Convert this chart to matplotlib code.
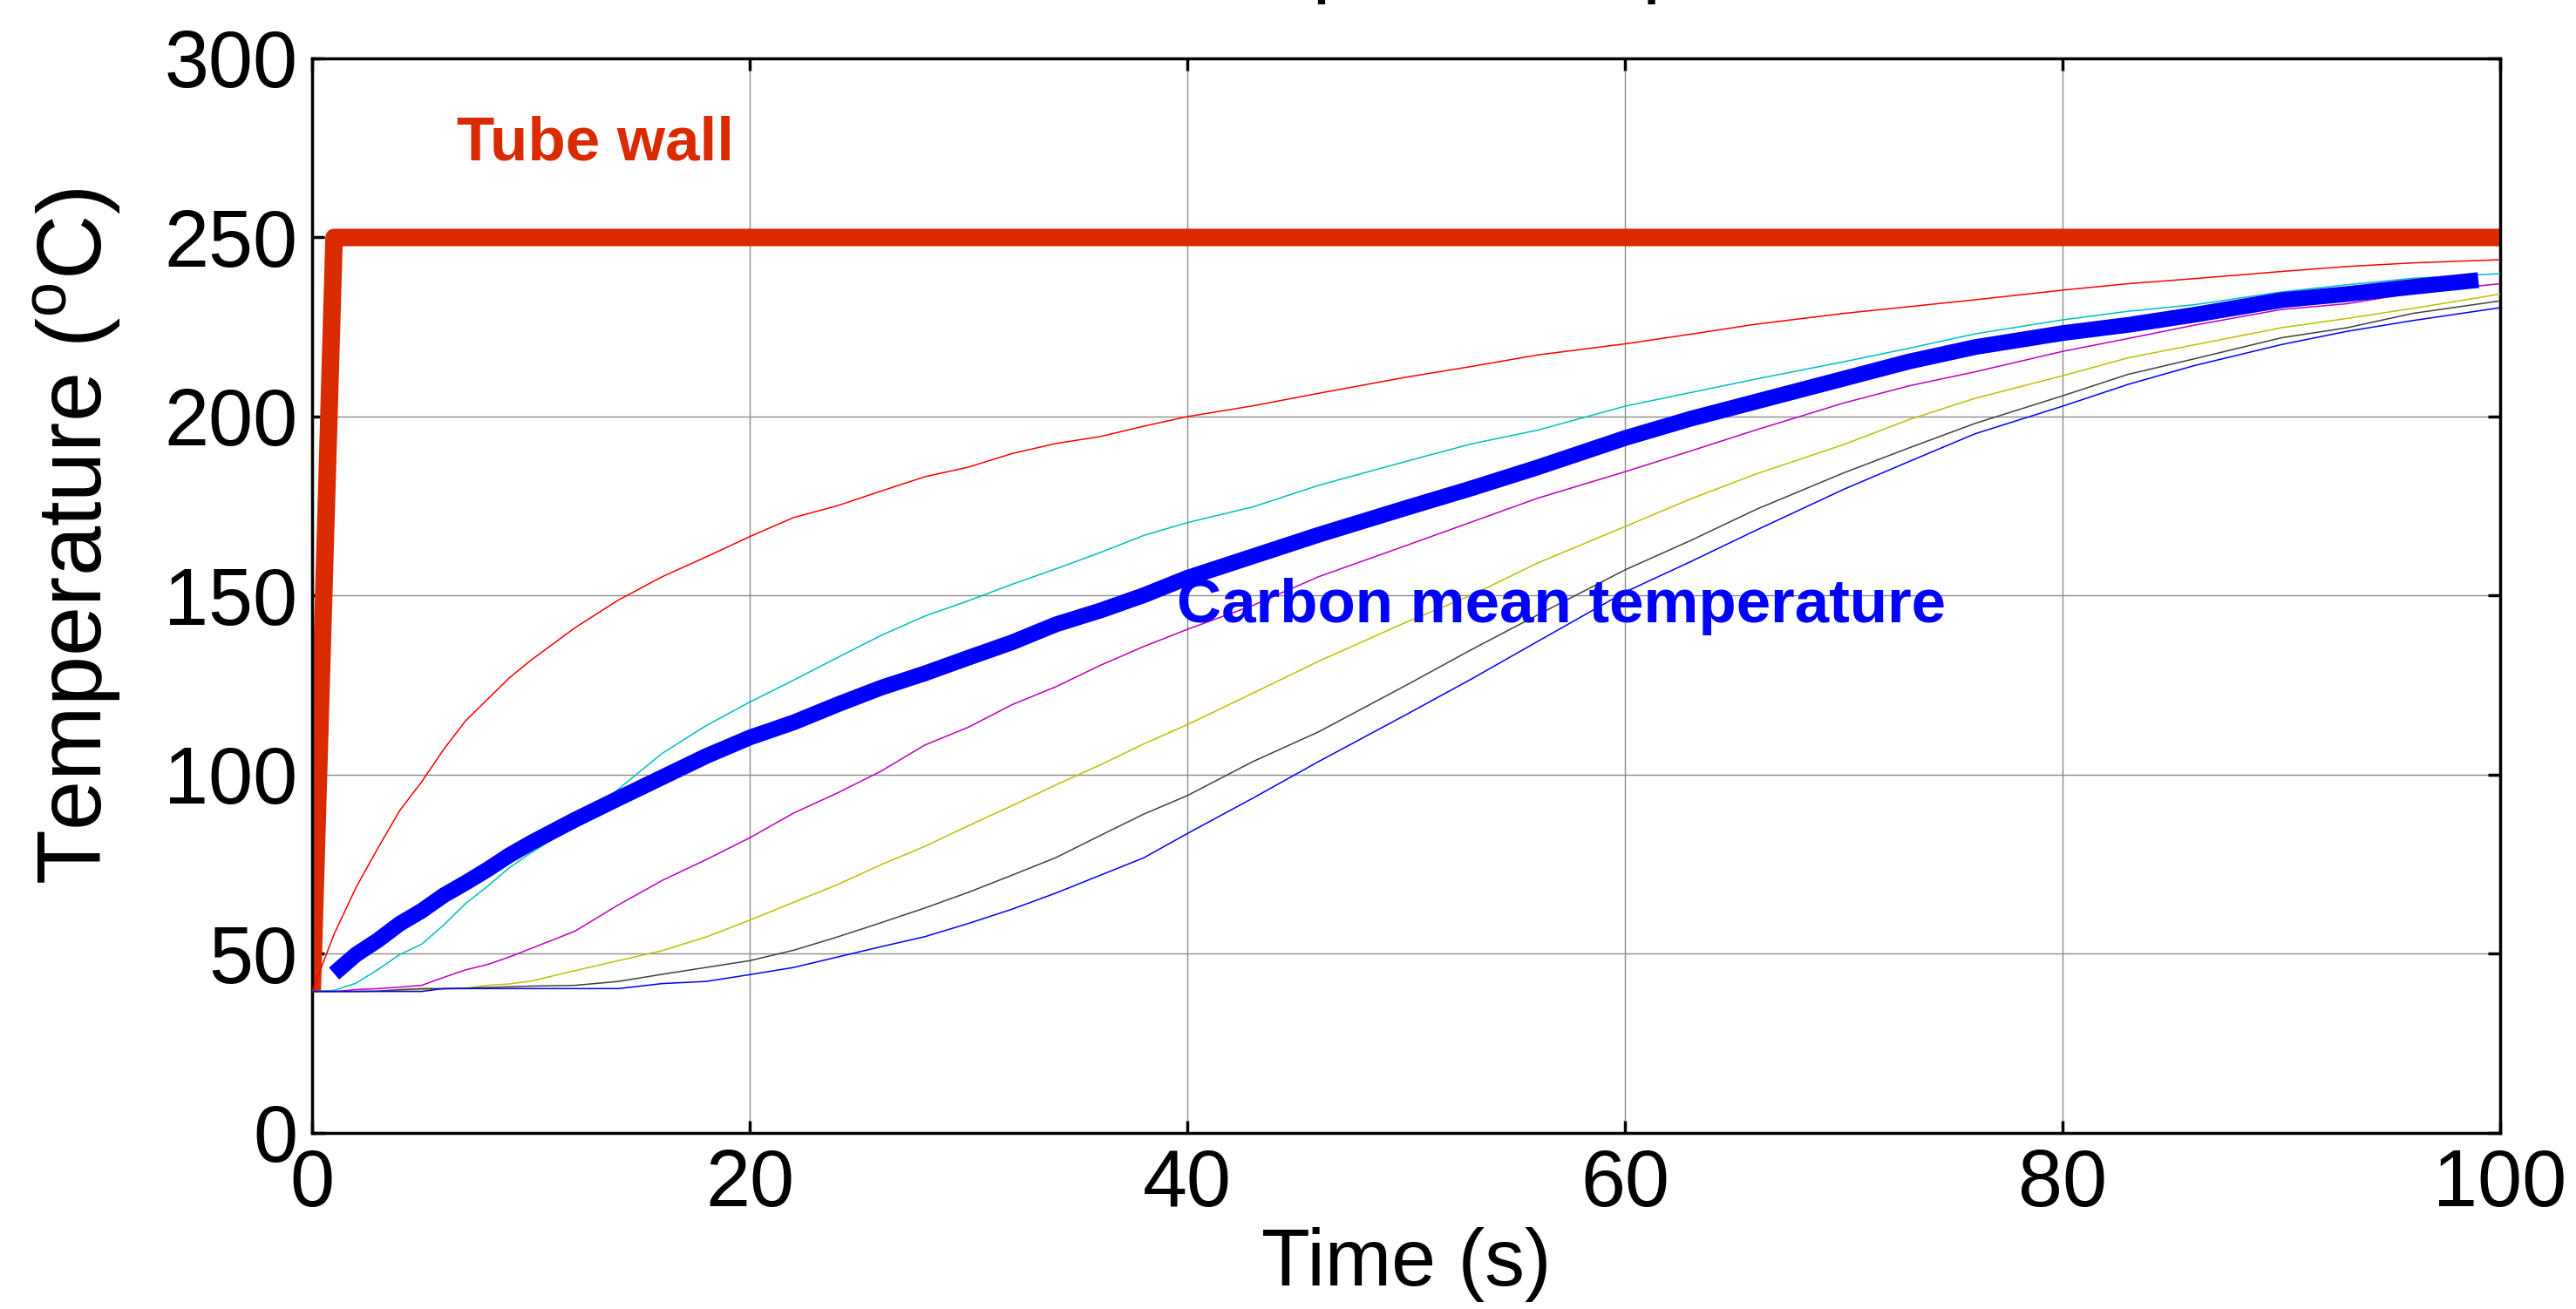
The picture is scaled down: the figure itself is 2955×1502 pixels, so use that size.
import matplotlib
matplotlib.use('Agg')
import matplotlib.pyplot as plt

plt.rcParams['font.family'] = ['Liberation Sans', 'DejaVu Sans']
plt.rcParams['mathtext.fontset'] = 'custom'
plt.rcParams['mathtext.rm'] = 'Liberation Sans'

# time points (s)
t = [0, 1, 2, 3, 4, 5, 6, 7, 8, 9, 10, 12, 14, 16, 18, 20, 22, 24, 26, 28, 30,
     32, 34, 36, 38, 40, 43, 46, 50, 53, 56, 60, 63, 66, 70, 73, 76, 80, 83, 86,
     90, 93, 96, 100]

# temperatures at the carbon layers (deg C)
layer_red = [39.5, 55.5, 68.5, 79.5, 90, 98, 107, 115, 121, 127, 132, 141, 148.8,
             155.3, 160.8, 166.5, 171.8, 175.1, 179.2, 183.2, 185.9, 189.7, 192.5,
             194.4, 197.3, 200, 203, 206.5, 211, 214, 217.2, 220.3, 223, 225.8,
             228.8, 230.7, 232.6, 235.3, 237.1, 238.5, 240.5, 241.9, 242.9, 243.8]
layer_cyan = [39.5, 39.8, 41.8, 45.6, 49.8, 52.7, 58, 64, 68.8, 74, 78.2, 85.9, 96,
              106, 113.7, 120.3, 126.4, 132.7, 138.9, 144.3, 148.6, 153.2, 157.5,
              162, 166.8, 170.4, 174.8, 180.8, 187.5, 192.4, 196.2, 202.9, 206.7,
              210.5, 215.3, 219.1, 223.1, 227, 229.4, 231.2, 234.8, 236.8, 238.6, 239.9]
layer_magenta = [39.5, 39.5, 40, 40.3, 40.7, 41.2, 43.4, 45.5, 47, 49.1, 51.5, 56.3,
                 63.7, 70.5, 76.3, 82.4, 89.3, 94.9, 101, 108.3, 113.3, 119.6, 124.6,
                 130.5, 135.8, 140.6, 147.3, 155.3, 164, 170.6, 177.2, 184.6, 190.4,
                 196.3, 203.8, 208.6, 212.5, 218.2, 221.8, 225.5, 229.9, 231.5, 234.5, 237.1]
layer_yellow = [39.5, 39.5, 39.5, 39.6, 39.8, 40, 40.1, 40.4, 41.2, 41.6, 42.4, 45.3,
                48.1, 50.9, 54.7, 59.4, 64.4, 69.3, 74.9, 80, 85.8, 91.4, 97.2, 102.7,
                108.6, 114, 122.8, 131.7, 142.6, 150.2, 159.1, 169.3, 177, 184, 192.2,
                199.2, 205.1, 211.4, 216.4, 220, 224.8, 227.4, 230.2, 234.2]
layer_gray = [39.5, 39.5, 39.5, 39.6, 40, 40.3, 40.3, 40.4, 40.6, 40.8, 41, 41.2, 42.3,
              44.3, 46.2, 48.1, 51, 54.7, 58.7, 62.8, 67.2, 72, 76.9, 83, 89, 94.2,
              103.7, 112, 125, 135, 144.6, 157.2, 165.4, 174.1, 184.3, 191.3, 198.1,
              205.8, 211.8, 216.1, 222, 224.8, 228.8, 232.3]
layer_blue = [39.5, 39.5, 39.5, 39.5, 39.5, 39.5, 40.3, 40.3, 40.3, 40.3, 40.3, 40.3,
              40.3, 41.7, 42.3, 44.2, 46.2, 49.1, 52, 54.8, 58.5, 62.5, 67, 71.9, 76.8,
              83.6, 93.5, 103.7, 116.8, 126.8, 137.2, 151, 159.5, 168.3, 179.7, 187.5,
              195.2, 202.9, 209, 214.2, 220.1, 223.8, 226.8, 230.4]

# carbon mean temperature
t_mean = [1, 2, 3, 4, 5, 6, 7, 8, 9, 10, 12, 14, 16, 18, 20, 22, 24, 26, 28, 30, 32,
          34, 36, 38, 40, 43, 46, 50, 53, 56, 60, 63, 66, 70, 73, 76, 80, 83, 86, 90,
          93, 96, 99]
carbon_mean = [44.5, 49.8, 53.8, 58.4, 62, 66.3, 69.8, 73.5, 77.5, 81, 87.4, 93.4, 99.3,
               105.2, 110.4, 114.6, 119.6, 124.3, 128.3, 132.7, 137, 142, 145.8, 150.1,
               155, 161, 167, 174.5, 180, 185.8, 194, 199.4, 204.2, 210.6, 215.4,
               219.4, 223.3, 225.6, 228.4, 232.5, 234.2, 236.2, 238.1]

# tube wall temperature
t_wall = [0, 1, 100]
wall = [39.5, 250, 250]

layers = [layer_red, layer_cyan, layer_magenta, layer_yellow, layer_gray, layer_blue]
layer_colors = ['#ff0000', (0, 0.75, 0.75), (0.75, 0, 0.75), (0.75, 0.75, 0),
                (0.25, 0.25, 0.25), '#0000ff']

fig = plt.figure(figsize=(29.55, 15.02), dpi=100)
ax = fig.add_axes([0.1212, 0.1345, 0.8494, 0.8209])

ax.plot(t_wall, wall, color='#d92a00', lw=14.5, solid_joinstyle='round',
        solid_capstyle='butt', zorder=2)
for vals, col in zip(layers, layer_colors):
    ax.plot(t, vals, color=col, lw=1.1, zorder=3)
ax.plot(t_mean, carbon_mean, color='#0000ff', lw=13, solid_capstyle='butt', zorder=4)

ax.text(6.6, 271.7, 'Tube wall', color='#d92a00', fontsize=51, fontweight='bold',
        ha='left', va='baseline', zorder=5)
ax.text(39.5, 142.5, 'Carbon mean temperature', color='#0000ff', fontsize=51,
        fontweight='bold', ha='left', va='baseline', zorder=5)

ax.set_xlim(0, 100)
ax.set_ylim(0, 300)
ax.set_xticks([0, 20, 40, 60, 80, 100])
ax.set_yticks([0, 50, 100, 150, 200, 250, 300])
ax.grid(True, color='#8c8c8c', lw=1.0)
ax.set_axisbelow(True)
ax.tick_params(direction='in', length=10, width=2.5, labelsize=66,
               top=True, right=True, pad=12)
for s in ax.spines.values():
    s.set_linewidth(2.5)

ax.set_xlabel('Time (s)', fontsize=66, labelpad=4)
ax.set_ylabel('Temperature ($^\\mathregular{o}$C)', fontsize=74)
ax.yaxis.set_label_coords(-0.0865, 0.555)

# title sits above the top edge of the figure
fig.text(0.4490, 1.01, 'Temperature profile', fontsize=68, ha='left', va='baseline')

fig.savefig('out.png', dpi=100)
